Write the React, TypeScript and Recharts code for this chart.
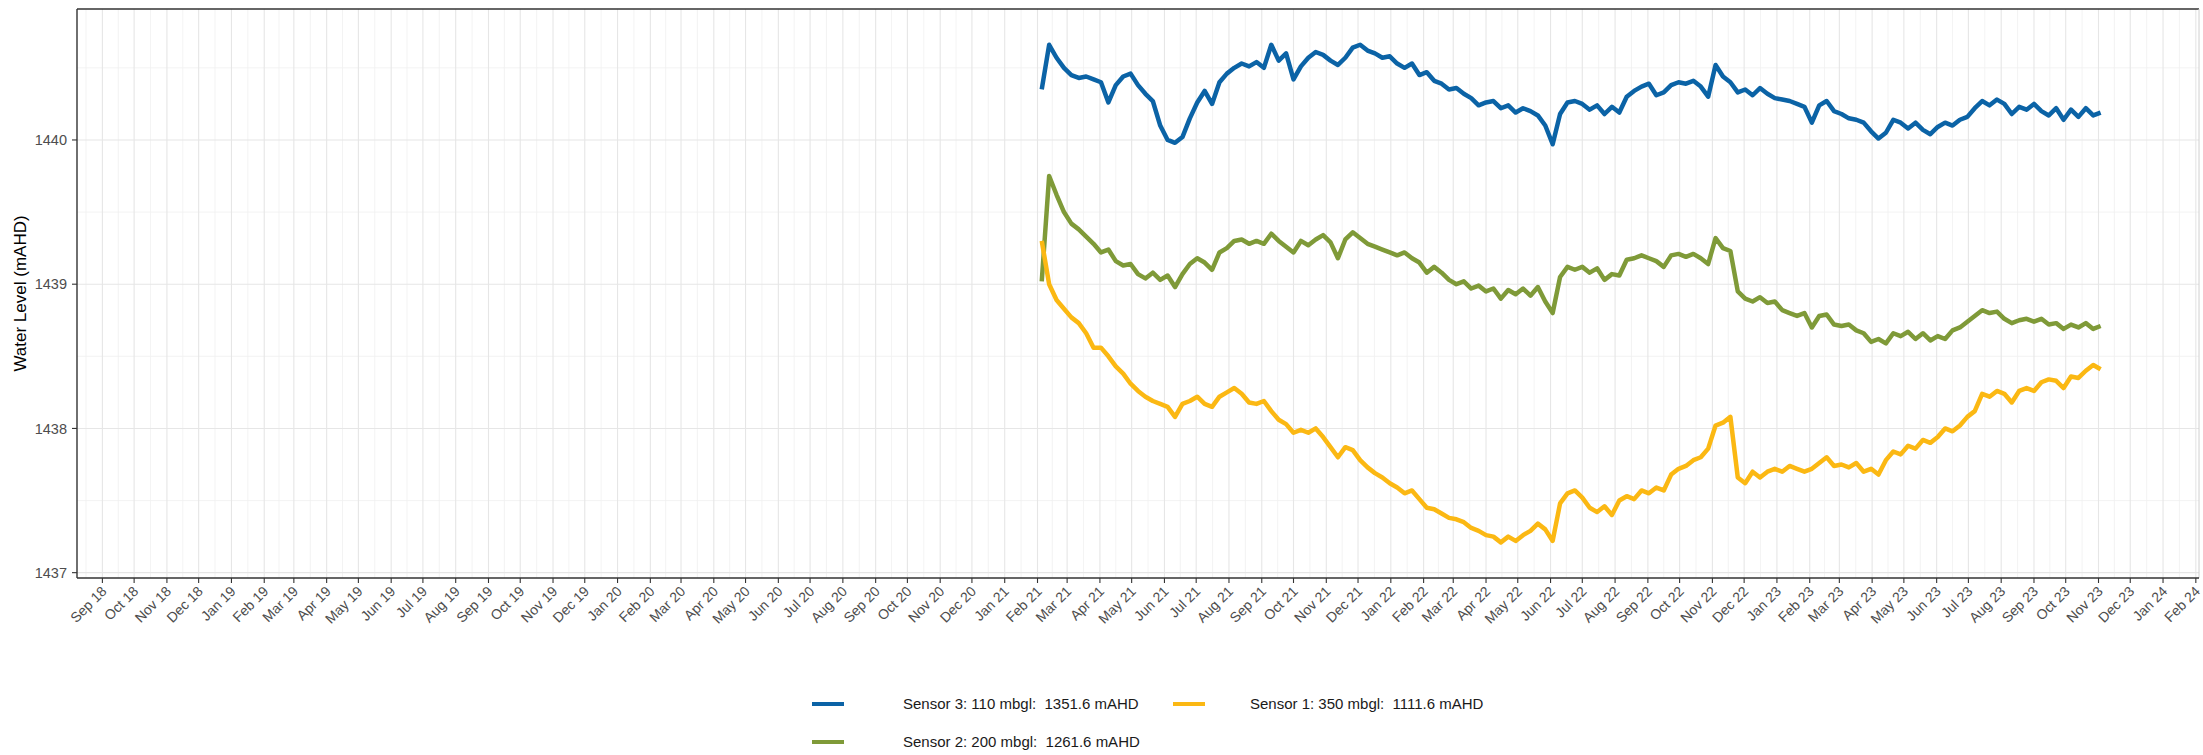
import { LineChart, Line, XAxis, YAxis, CartesianGrid, ReferenceLine, Legend } from "recharts"

const DAY = 24 * 60 * 60 * 1000
const FIRST_READING = Date.UTC(2021, 1, 5)
const READING_STEP_DAYS = 7

// weekly readings (mAHD)
const sensor3 = [
  1440.35, 1440.66, 1440.57, 1440.5, 1440.45, 1440.43, 1440.44, 1440.42, 1440.4, 1440.26,
  1440.38, 1440.44, 1440.46, 1440.38, 1440.32, 1440.27, 1440.1, 1440.0, 1439.98, 1440.02,
  1440.15, 1440.26, 1440.34, 1440.25, 1440.4, 1440.46, 1440.5, 1440.53, 1440.51, 1440.54,
  1440.5, 1440.66, 1440.55, 1440.6, 1440.42, 1440.51, 1440.57, 1440.61, 1440.59, 1440.55,
  1440.52, 1440.57, 1440.64, 1440.66, 1440.62, 1440.6, 1440.57, 1440.58, 1440.53, 1440.5,
  1440.53, 1440.45, 1440.47, 1440.41, 1440.39, 1440.35, 1440.36, 1440.32, 1440.29, 1440.24,
  1440.26, 1440.27, 1440.22, 1440.24, 1440.19, 1440.22, 1440.2, 1440.17, 1440.1, 1439.97,
  1440.18, 1440.26, 1440.27, 1440.25, 1440.21, 1440.24, 1440.18, 1440.23, 1440.19, 1440.3,
  1440.34, 1440.37, 1440.39, 1440.31, 1440.33, 1440.38, 1440.4, 1440.39, 1440.41, 1440.37,
  1440.3, 1440.52, 1440.44, 1440.4, 1440.33, 1440.35, 1440.31, 1440.36, 1440.32, 1440.29,
  1440.28, 1440.27, 1440.25, 1440.23, 1440.12, 1440.24, 1440.27, 1440.2, 1440.18, 1440.15,
  1440.14, 1440.12, 1440.06, 1440.01, 1440.05, 1440.14, 1440.12, 1440.08, 1440.12, 1440.07,
  1440.04, 1440.09, 1440.12, 1440.1, 1440.14, 1440.16, 1440.22, 1440.27, 1440.24, 1440.28,
  1440.25, 1440.18, 1440.23, 1440.21, 1440.25, 1440.2, 1440.17, 1440.22, 1440.14, 1440.21,
  1440.16, 1440.22, 1440.17, 1440.19,
]

const sensor2 = [
  1439.02, 1439.75, 1439.62, 1439.5, 1439.42, 1439.38, 1439.33, 1439.28, 1439.22, 1439.24,
  1439.16, 1439.13, 1439.14, 1439.07, 1439.04, 1439.08, 1439.03, 1439.06, 1438.98, 1439.07,
  1439.14, 1439.18, 1439.15, 1439.1, 1439.22, 1439.25, 1439.3, 1439.31, 1439.28, 1439.3,
  1439.28, 1439.35, 1439.3, 1439.26, 1439.22, 1439.3, 1439.27, 1439.31, 1439.34, 1439.29,
  1439.18, 1439.31, 1439.36, 1439.32, 1439.28, 1439.26, 1439.24, 1439.22, 1439.2, 1439.22,
  1439.18, 1439.15, 1439.08, 1439.12, 1439.08, 1439.03, 1439.0, 1439.02, 1438.97, 1438.99,
  1438.95, 1438.97, 1438.9, 1438.96, 1438.93, 1438.97, 1438.92, 1438.98, 1438.88, 1438.8,
  1439.05, 1439.12, 1439.1, 1439.12, 1439.08, 1439.11, 1439.03, 1439.07, 1439.06, 1439.17,
  1439.18, 1439.2, 1439.18, 1439.16, 1439.12, 1439.2, 1439.21, 1439.19, 1439.21, 1439.18,
  1439.14, 1439.32, 1439.25, 1439.23, 1438.95, 1438.9, 1438.88, 1438.91, 1438.87, 1438.88,
  1438.82, 1438.8, 1438.78, 1438.8, 1438.7, 1438.78, 1438.79, 1438.72, 1438.71, 1438.72,
  1438.68, 1438.66, 1438.6, 1438.62, 1438.59, 1438.66, 1438.64, 1438.67, 1438.62, 1438.66,
  1438.61, 1438.64, 1438.62, 1438.68, 1438.7, 1438.74, 1438.78, 1438.82, 1438.8, 1438.81,
  1438.76, 1438.73, 1438.75, 1438.76, 1438.74, 1438.76, 1438.72, 1438.73, 1438.69, 1438.72,
  1438.7, 1438.73, 1438.69, 1438.71,
]

const sensor1 = [
  1439.3, 1439.0, 1438.89, 1438.83, 1438.77, 1438.73, 1438.66, 1438.56, 1438.56, 1438.5,
  1438.43, 1438.38, 1438.31, 1438.26, 1438.22, 1438.19, 1438.17, 1438.15, 1438.08, 1438.17,
  1438.19, 1438.22, 1438.17, 1438.15, 1438.22, 1438.25, 1438.28, 1438.24, 1438.18, 1438.17,
  1438.19, 1438.12, 1438.06, 1438.03, 1437.97, 1437.99, 1437.97, 1438.0, 1437.94, 1437.87,
  1437.8, 1437.87, 1437.85, 1437.78, 1437.73, 1437.69, 1437.66, 1437.62, 1437.59, 1437.55,
  1437.57, 1437.51, 1437.45, 1437.44, 1437.41, 1437.38, 1437.37, 1437.35, 1437.31, 1437.29,
  1437.26, 1437.25, 1437.21, 1437.25, 1437.22, 1437.26, 1437.29, 1437.34, 1437.3, 1437.22,
  1437.48, 1437.55, 1437.57, 1437.52, 1437.45, 1437.42, 1437.46, 1437.4, 1437.5, 1437.53,
  1437.51, 1437.57, 1437.55, 1437.59, 1437.57, 1437.68, 1437.72, 1437.74, 1437.78, 1437.8,
  1437.86, 1438.02, 1438.04, 1438.08, 1437.66, 1437.62, 1437.7, 1437.66, 1437.7, 1437.72,
  1437.7, 1437.74, 1437.72, 1437.7, 1437.72, 1437.76, 1437.8, 1437.74, 1437.75, 1437.73,
  1437.76, 1437.7, 1437.72, 1437.68, 1437.78, 1437.84, 1437.82, 1437.88, 1437.86, 1437.92,
  1437.9, 1437.94, 1438.0, 1437.98, 1438.02, 1438.08, 1438.12, 1438.24, 1438.22, 1438.26,
  1438.24, 1438.18, 1438.26, 1438.28, 1438.26, 1438.32, 1438.34, 1438.33, 1438.28, 1438.36,
  1438.35, 1438.4, 1438.44, 1438.41,
]

const yTicks = [1437, 1438, 1439, 1440]
const yMinorTicks = [1437.5, 1438.5, 1439.5, 1440.5]
const yDomain = [1436.963, 1440.908]
const xDomain = [Date.UTC(2018, 7, 8), Date.UTC(2024, 1, 4)]
const MONTHS = ["Jan", "Feb", "Mar", "Apr", "May", "Jun", "Jul", "Aug", "Sep", "Oct", "Nov", "Dec"]

const series = [
  { key: "s3", name: "Sensor 3: 110 mbgl:  1351.6 mAHD", color: "#0B63A6" },
  { key: "s2", name: "Sensor 2: 200 mbgl:  1261.6 mAHD", color: "#7F9A38" },
  { key: "s1", name: "Sensor 1: 350 mbgl:  1111.6 mAHD", color: "#FBB813" },
]

// legend slots: ggplot fills by column (s3, s2 | s1)
const legendSlots = [
  { keyX: 812, textX: 903, y: 32 },
  { keyX: 812, textX: 903, y: 70 },
  { keyX: 1173, textX: 1250, y: 32 },
]

const FONT = "'Liberation Sans', Arial, Helvetica, sans-serif"

const data = sensor3.map((v, i) => ({
  t: FIRST_READING + i * READING_STEP_DAYS * DAY,
  s3: v,
  s2: sensor2[i],
  s1: sensor1[i],
}))

// first of each month, Sep 2018 .. Feb 2024
const monthTicks: number[] = []
for (let y = 2018, m = 8; y < 2024 || (y === 2024 && m <= 1); ) {
  monthTicks.push(Date.UTC(y, m, 1))
  m++
  if (m === 12) {
    m = 0
    y++
  }
}
const monthBounds = [Date.UTC(2018, 7, 1), ...monthTicks]
const minorMonthLines = monthBounds.slice(1).map((t, i) => (t + monthBounds[i]) / 2)

function monthLabel(t: number): string {
  const d = new Date(t)
  return MONTHS[d.getUTCMonth()] + " " + String(d.getUTCFullYear()).slice(2)
}

function MonthTick({ x, y, payload }: any) {
  return (
    <g transform={`translate(${x - 2},${y}) rotate(-45)`}>
      <text x={0} y={0} dy="0.72em" textAnchor="end" fontSize={14} fill="#4d4d4d" fontFamily={FONT}>
        {monthLabel(payload.value)}
      </text>
    </g>
  )
}

function YTitle({ viewBox }: any) {
  const cy = viewBox.y + viewBox.height / 2
  return (
    <text x={26} y={cy} transform={`rotate(-90, 26, ${cy})`} textAnchor="middle" fontSize={17} fill="#000" fontFamily={FONT}>
      Water Level (mAHD)
    </text>
  )
}

function SensorLegend() {
  return (
    <svg width={2203} height={83}>
      {series.map((s, i) => {
        const slot = legendSlots[i]
        return (
          <g key={s.key}>
            <line x1={slot.keyX} x2={slot.keyX + 32} y1={slot.y} y2={slot.y} stroke={s.color} strokeWidth={4} />
            <text
              x={slot.textX}
              y={slot.y}
              dy="0.36em"
              fontSize={15}
              fill="#1a1a1a"
              fontFamily={FONT}
              style={{ whiteSpace: "pre" }}
            >
              {s.name}
            </text>
          </g>
        )
      })}
    </svg>
  )
}

const axisLine = { stroke: "#333", strokeWidth: 1.4 }
const tickLine = { stroke: "#333", strokeWidth: 1.1 }
const yTickStyle = { fontSize: 14.5, fill: "#4d4d4d", fontFamily: FONT }
const legendWrapper = { left: 0, top: 672, width: 2203, height: 83 }

export default function App() {
  return (
    <div style={{ position: "absolute", left: 0, top: 0, width: 2203, height: 755, background: "#fff" }}>
      <LineChart width={2203} height={755} data={data} margin={{ top: 9, right: 4, bottom: 77, left: 17 }}>
        <CartesianGrid
          stroke="#f0f0f0"
          strokeWidth={0.8}
          horizontalValues={yMinorTicks}
          verticalValues={minorMonthLines}
        />
        <CartesianGrid stroke="#e6e6e6" strokeWidth={1.1} horizontalValues={yTicks} verticalValues={monthTicks} />
        <XAxis
          dataKey="t"
          type="number"
          scale="linear"
          domain={xDomain}
          allowDataOverflow
          ticks={monthTicks}
          interval={0}
          height={100}
          tick={<MonthTick />}
          tickSize={5}
          axisLine={axisLine}
          tickLine={tickLine}
        />
        <YAxis
          type="number"
          domain={yDomain}
          allowDataOverflow
          ticks={yTicks}
          width={60}
          tickSize={5}
          tickMargin={5}
          tick={yTickStyle}
          axisLine={axisLine}
          tickLine={tickLine}
          label={<YTitle />}
        />
        <ReferenceLine y={yDomain[1]} stroke="#333" strokeWidth={1.4} />
        <ReferenceLine x={xDomain[1]} stroke="#d0d0d0" strokeWidth={1} />
        {series.map((s) => (
          <Line
            key={s.key}
            type="linear"
            dataKey={s.key}
            name={s.name}
            stroke={s.color}
            strokeWidth={4.5}
            strokeLinejoin="round"
            dot={false}
            activeDot={false}
            isAnimationActive={false}
          />
        ))}
        <Legend
          layout="horizontal"
          verticalAlign="middle"
          align="center"
          wrapperStyle={legendWrapper}
          content={<SensorLegend />}
        />
      </LineChart>
    </div>
  )
}
